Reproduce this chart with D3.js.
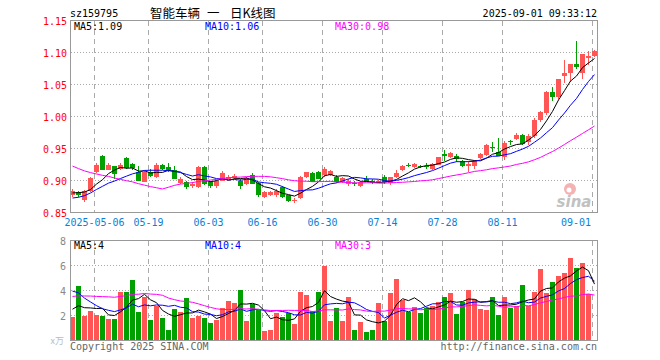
<!DOCTYPE html>
<html><head><meta charset="utf-8">
<script src="https://cdn.jsdelivr.net/npm/d3@7"></script>
<style>body{margin:0;background:#fff}svg{display:block}</style>
</head><body><svg id="c" width="660" height="360"></svg>
<script>
const dates = ["04-25","04-28","04-29","04-30","05-06","05-07","05-08","05-09","05-12","05-13",
"05-14","05-15","05-16","05-19","05-20","05-21","05-22","05-23","05-26","05-27",
"05-28","05-29","05-30","06-03","06-04","06-05","06-06","06-09","06-10","06-11",
"06-12","06-13","06-16","06-17","06-18","06-19","06-20","06-23","06-24","06-25",
"06-26","06-27","06-30","07-01","07-02","07-03","07-04","07-07","07-08","07-09",
"07-10","07-11","07-14","07-15","07-16","07-17","07-18","07-21","07-22","07-23",
"07-24","07-25","07-28","07-29","07-30","07-31","08-01","08-04","08-05","08-06",
"08-07","08-08","08-11","08-12","08-13","08-14","08-15","08-18","08-19","08-20",
"08-21","08-22","08-25","08-26","08-27","08-28","08-29","09-01"];
const openP = [0.878,0.882,0.869,0.883,0.913,0.939,0.917,0.922,0.918,0.935,
0.926,0.913,0.898,0.913,0.905,0.925,0.921,0.916,0.896,0.898,
0.891,0.890,0.921,0.897,0.891,0.900,0.903,0.904,0.900,0.894,
0.909,0.896,0.874,0.877,0.877,0.890,0.877,0.869,0.872,0.905,
0.911,0.913,0.908,0.909,0.906,0.897,0.894,0.896,0.891,0.903,
0.900,0.897,0.906,0.896,0.905,0.916,0.925,0.921,0.923,0.923,
0.918,0.925,0.941,0.936,0.938,0.931,0.922,0.923,0.935,0.940,
0.953,0.945,0.936,0.961,0.965,0.971,0.960,0.969,0.994,1.005,
1.038,1.030,1.063,1.068,1.082,1.068,1.091,1.094];
const closeP = [0.883,0.877,0.883,0.904,0.925,0.917,0.925,0.910,0.925,0.919,
0.919,0.900,0.913,0.907,0.925,0.918,0.917,0.903,0.903,0.890,
0.894,0.921,0.894,0.891,0.899,0.911,0.906,0.907,0.892,0.904,
0.895,0.878,0.882,0.882,0.884,0.874,0.868,0.870,0.905,0.913,
0.898,0.903,0.918,0.915,0.898,0.904,0.900,0.895,0.897,0.898,
0.896,0.899,0.897,0.905,0.911,0.923,0.924,0.926,0.922,0.922,
0.926,0.936,0.938,0.943,0.934,0.922,0.926,0.931,0.941,0.955,
0.952,0.939,0.959,0.960,0.971,0.957,0.969,0.995,1.007,1.038,
1.031,1.058,1.068,1.082,1.077,1.097,1.094,1.103];
const highP = [0.886,0.884,0.885,0.905,0.927,0.940,0.928,0.923,0.927,0.937,
0.928,0.922,0.915,0.918,0.927,0.926,0.927,0.922,0.905,0.899,
0.897,0.922,0.922,0.899,0.901,0.915,0.908,0.910,0.902,0.906,
0.912,0.897,0.883,0.884,0.887,0.891,0.878,0.873,0.907,0.914,
0.913,0.915,0.921,0.917,0.908,0.906,0.902,0.899,0.899,0.907,
0.902,0.901,0.908,0.906,0.916,0.925,0.928,0.928,0.925,0.927,
0.927,0.937,0.948,0.944,0.941,0.932,0.931,0.932,0.943,0.957,
0.960,0.967,0.961,0.963,0.974,0.972,0.972,0.997,1.008,1.040,
1.046,1.059,1.088,1.082,1.118,1.097,1.103,1.104];
const lowP = [0.874,0.875,0.867,0.882,0.912,0.916,0.916,0.903,0.917,0.918,
0.917,0.899,0.897,0.905,0.904,0.917,0.914,0.902,0.895,0.887,
0.888,0.889,0.893,0.889,0.889,0.899,0.902,0.903,0.887,0.893,
0.894,0.874,0.872,0.876,0.875,0.873,0.866,0.865,0.871,0.904,
0.897,0.902,0.906,0.907,0.896,0.896,0.892,0.891,0.890,0.897,
0.895,0.896,0.895,0.893,0.904,0.915,0.921,0.920,0.919,0.918,
0.917,0.924,0.931,0.935,0.929,0.921,0.913,0.918,0.934,0.939,
0.945,0.938,0.932,0.956,0.963,0.955,0.956,0.967,0.992,1.003,
1.025,1.028,1.052,1.054,1.074,1.059,1.081,1.093];
const volume = [1.92,4.40,2.00,2.40,2.08,2.00,1.76,1.76,3.87,3.92,
4.88,2.32,3.47,1.68,2.77,1.79,0.88,2.56,2.32,3.44,
1.84,2.00,1.84,1.44,1.68,2.64,3.20,3.04,4.08,1.60,
2.96,2.48,0.80,0.88,2.24,1.92,2.24,1.36,3.92,3.68,
2.40,3.92,6.00,1.60,2.64,1.60,3.52,0.88,1.52,0.72,
0.88,3.04,1.60,3.84,4.96,3.28,2.27,2.72,2.24,2.61,
2.80,3.07,3.47,3.79,2.16,3.09,4.08,3.36,2.56,2.48,
3.52,2.08,3.52,2.61,2.80,4.48,2.80,3.92,5.76,3.84,
4.72,5.20,5.44,6.64,5.84,6.24,3.76,0.08];
// 29 earlier sessions (off-chart), only needed for the moving averages
const priorClose = [0.995,0.99,0.985,0.99,0.98,0.975,0.985,0.99,0.98,0.975,0.985,0.98,0.975,0.98,0.975,
0.835,0.815,0.845,0.855,0.86,0.865,0.858,0.862,0.87,0.868,0.875,0.878,0.885,0.882];
const priorVolume = [2.8,2.4,2.6,2.9,2.5,2.3,2.7,2.0,1.8,1.9,2.1,1.7,3.0,3.5,4.0,
7.5,6.5,5.5,4.6,3.8,5.8,6.2,5.5,5.0,4.5,3.0,2.8,2.5,2.3];
const priceTicks = [0.85,0.90,0.95,1.00,1.05,1.10,1.15];
const volumeTicks = [2,4,6,8];
const dateTicks = ["05-06","05-19","06-03","06-16","06-30","07-14","07-28","08-11","09-01"];
const titleParts = ["智能车辆","一","日K线图"];
const maPeriods = [5,10,30];
const maColors = ["#000000","#0000ff","#ff00ff"];

const svg = d3.select("#c");
const mono = "'DejaVu Sans Mono', monospace";
const cjk = "'Noto Sans CJK SC', sans-serif";
const L = 70.5, R = 597.5;
const x = d3.scalePoint().domain(dates).range([72.5, 594.5]);
const y = d3.scaleLinear().domain([0.85, 1.15]).range([212.5, 20.5]);
const yv = d3.scaleLinear().domain([0, 8]).range([340.5, 240.5]);

function ma(series, prior, n) {
  const all = prior.concat(series), off = prior.length;
  return series.map((_, i) => d3.mean(all.slice(i + off - n + 1, i + off + 1)));
}
const trunc = (v, d) => (Math.floor(v * Math.pow(10, d) + 1e-9) / Math.pow(10, d)).toFixed(d);

// header
svg.append("text").attr("x", 70).attr("y", 17).attr("font-family", mono).attr("font-size", 10).text("sz159795");
const tt = svg.append("text").attr("y", 18).attr("font-family", cjk).attr("font-size", 12.5);
tt.selectAll("tspan").data(titleParts).join("tspan").attr("x", (d, i) => [150, 207, 230][i]).text(d => d);
svg.append("text").attr("x", 597).attr("y", 17).attr("text-anchor", "end").attr("font-family", mono).attr("font-size", 10).text("2025-09-01 09:33:12");

// grids
const g = svg.append("g").attr("shape-rendering", "crispEdges");
g.selectAll(".hp").data(priceTicks.slice(1, -1)).join("line")
  .attr("x1", L).attr("x2", R).attr("y1", d => y(d)).attr("y2", d => y(d))
  .attr("stroke", "#aaa").attr("stroke-dasharray", "1,2");
g.selectAll(".hv").data(volumeTicks.slice(0, -1)).join("line")
  .attr("x1", L).attr("x2", R).attr("y1", d => yv(d)).attr("y2", d => yv(d))
  .attr("stroke", "#aaa").attr("stroke-dasharray", "1,2");
[[y(1.15), y(0.85)], [yv(8), yv(0)]].forEach(([t, b]) => {
  g.selectAll(null).data(dateTicks).join("line")
    .attr("x1", d => x(d) - 2).attr("x2", d => x(d) - 2).attr("y1", t).attr("y2", b)
    .attr("stroke", "#aaa").attr("stroke-dasharray", "5,4");
});

// candles
const up = i => closeP[i] >= openP[i];
const red = "#ff5555", green = "#00a000";
const cg = svg.append("g").attr("shape-rendering", "crispEdges");
cg.selectAll(".w").data(dates).join("line")
  .attr("x1", d => x(d)).attr("x2", d => x(d))
  .attr("y1", (d, i) => y(highP[i])).attr("y2", (d, i) => y(lowP[i]))
  .attr("stroke", (d, i) => up(i) ? red : green);
cg.selectAll(".b").data(dates).join("rect")
  .attr("x", d => x(d) - 2.5).attr("width", 5)
  .attr("y", (d, i) => y(Math.max(openP[i], closeP[i])))
  .attr("height", (d, i) => Math.max(1, Math.abs(y(openP[i]) - y(closeP[i]))))
  .attr("fill", (d, i) => up(i) ? red : green);

// volume bars
cg.selectAll(".v").data(dates).join("rect")
  .attr("x", d => x(d) - 2.5).attr("width", 5)
  .attr("y", (d, i) => yv(volume[i])).attr("height", (d, i) => yv(0) - yv(volume[i]))
  .attr("fill", (d, i) => up(i) ? red : green);

// moving averages
maPeriods.forEach((n, k) => {
  const pm = ma(closeP, priorClose, n), vm = ma(volume, priorVolume, n);
  svg.append("path").attr("fill", "none").attr("stroke", maColors[k]).attr("stroke-width", 1)
    .attr("d", d3.line().x((v, i) => x(dates[i])).y(v => y(v))(pm));
  svg.append("path").attr("fill", "none").attr("stroke", maColors[k]).attr("stroke-width", 1)
    .attr("d", d3.line().x((v, i) => x(dates[i])).y(v => yv(v))(vm));
  const lx = [74, 205, 335][k];
  svg.append("text").attr("x", lx).attr("y", 30).attr("font-family", mono).attr("font-size", 10)
    .attr("fill", maColors[k]).text("MA" + n + ":" + trunc(pm[pm.length - 1], 2));
  svg.append("text").attr("x", lx).attr("y", 249).attr("font-family", mono).attr("font-size", 10)
    .attr("fill", maColors[k]).text("MA" + n + ":" + trunc(vm[vm.length - 1], 0));
});

// borders
svg.append("rect").attr("x", L).attr("y", y(1.15)).attr("width", R - L).attr("height", y(0.85) - y(1.15))
  .attr("fill", "none").attr("stroke", "#999").attr("shape-rendering", "crispEdges");
svg.append("rect").attr("x", L).attr("y", yv(8)).attr("width", R - L).attr("height", yv(0) - yv(8))
  .attr("fill", "none").attr("stroke", "#999").attr("shape-rendering", "crispEdges");

// axis labels
svg.selectAll(".pl").data(priceTicks).join("text")
  .attr("x", 67).attr("y", d => y(d) + 4).attr("text-anchor", "end")
  .attr("font-family", mono).attr("font-size", 10).attr("fill", "#ff0000").text(d => d.toFixed(2));
svg.selectAll(".vl").data(volumeTicks).join("text")
  .attr("x", 66).attr("y", d => yv(d) + 4).attr("text-anchor", "end")
  .attr("font-family", mono).attr("font-size", 10).attr("fill", "#888").text(d => d);
svg.append("text").attr("x", 64).attr("y", 344).attr("text-anchor", "end")
  .attr("font-family", cjk).attr("font-size", 9).attr("fill", "#bbb").text("x万");
svg.selectAll(".dl").data(dateTicks).join("text")
  .attr("x", (d, i) => i === dateTicks.length - 1 ? 591 : x(d) - 2)
  .attr("y", 226).attr("text-anchor", (d, i) => i === dateTicks.length - 1 ? "end" : "middle")
  .attr("font-family", mono).attr("font-size", 10).attr("fill", "#0a7fd8")
  .text((d, i) => i === 0 ? "2025-" + d : d);

// footer
svg.append("text").attr("x", 70).attr("y", 350).attr("font-family", mono).attr("font-size", 10).attr("fill", "#666").text("Copyright 2025 SINA.COM");
svg.append("text").attr("x", 597).attr("y", 350).attr("text-anchor", "end").attr("font-family", mono).attr("font-size", 10).attr("fill", "#666").text("http://finance.sina.com.cn");

// sina watermark
const wm = svg.append("g").attr("opacity", 0.6);
wm.append("circle").attr("cx", 570).attr("cy", 189).attr("r", 6).attr("fill", "#f08080");
wm.append("circle").attr("cx", 569).attr("cy", 190).attr("r", 2.5).attr("fill", "#fff");
wm.append("text").attr("x", 574).attr("y", 207).attr("text-anchor", "middle")
  .attr("font-family", "'DejaVu Sans', sans-serif").attr("font-style", "italic").attr("font-weight", "bold")
  .attr("font-size", 15).attr("fill", "#999").text("sina");
</script></body></html>
